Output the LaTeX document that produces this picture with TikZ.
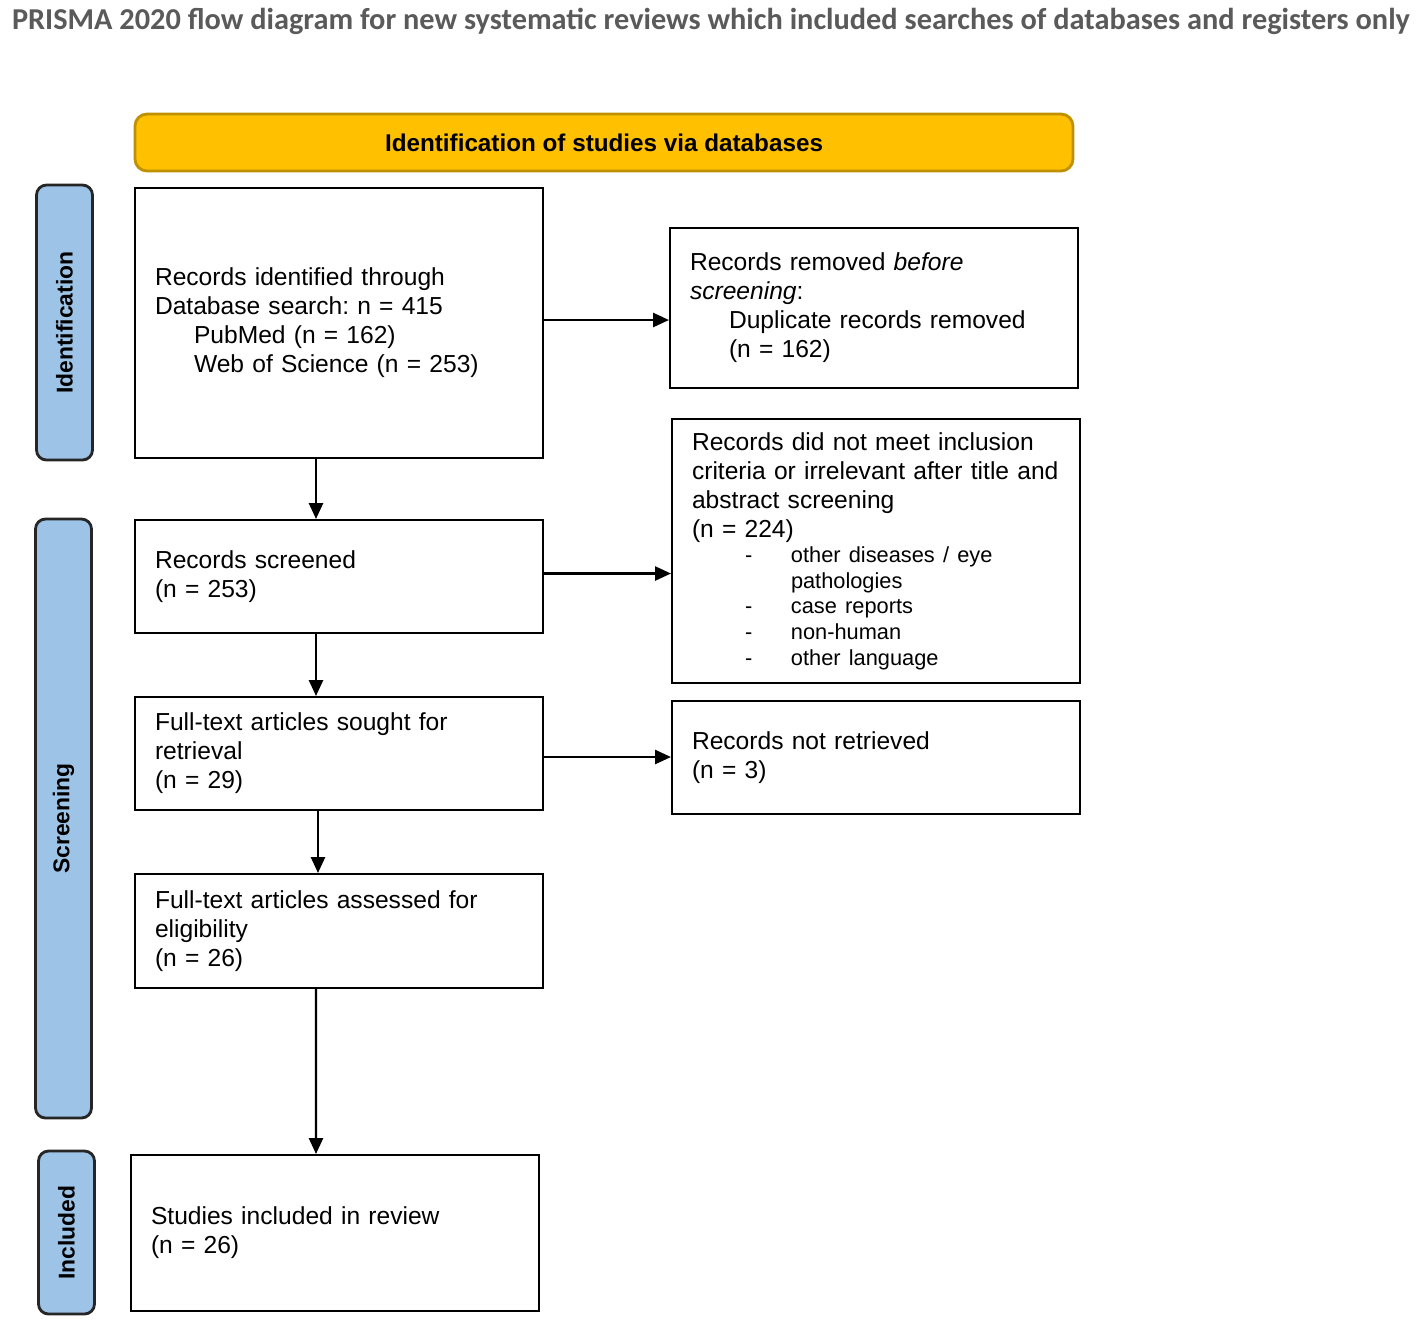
\documentclass[tikz,border=0pt]{standalone}
\usepackage{fontspec}
\setmainfont{Liberation Sans}
\newfontfamily\titlefont{Carlito}
\usetikzlibrary{arrows.meta}
\definecolor{bannergold}{HTML}{FFC000}
\definecolor{bannerrim}{HTML}{BF9000}
\definecolor{sideblue}{HTML}{9DC3E6}
\definecolor{titlegrey}{HTML}{5A5A5A}
\frenchspacing
\hyphenpenalty=10000
\begin{document}
\begin{tikzpicture}[
    box/.style={draw, line width=0.6pt, minimum width=4.08cm, text width=3.68cm,
      inner xsep=0.2cm, align=left, font=\fontsize{7}{8.25}\selectfont},
    sidebar/.style={draw=black!85, line width=0.8pt, fill=sideblue, rounded corners=0.1cm,
      rotate=90, minimum height=0.56cm, font=\bfseries\fontsize{6.5}{7.5}\selectfont},
    arr/.style={-{Triangle[length=4.5pt,width=4pt]}, line width=0.6pt}]
    \useasboundingbox (0,0) rectangle (14.17,-13.35);
    \node (title) at (7.11,-0.21) {\resizebox{13.98cm}{!}{\titlefont\bfseries\color{titlegrey}PRISMA 2020 flow diagram for new systematic reviews which included searches of databases and registers only}};
    \node[draw=bannerrim, line width=0.8pt, fill=bannergold, rounded corners=0.12cm,
      minimum width=9.38cm, minimum height=0.57cm, font=\bfseries\fontsize{6.9}{8}\selectfont]
      (banner) at (6.04,-1.425) {Identification of studies via databases};
    \node[sidebar, minimum width=2.75cm] (sideid) at (0.645,-3.225) {Identification};
    \node[sidebar, minimum width=5.99cm] (sidescr) at (0.635,-8.185) {Screening};
    \node[sidebar, minimum width=1.63cm] (sideinc) at (0.665,-12.325) {Included};
    \node[box, minimum height=2.70cm] (identified) at (3.39,-3.23)
      {Records identified through\\ Database search: n = 415\\
       \hspace*{0.39cm}PubMed (n = 162)\\ \hspace*{0.39cm}Web of Science (n = 253)};
    \node[box, minimum height=1.60cm] (removed) at (8.74,-3.08)
      {Records removed \textit{before}\\ \textit{screening}:\\
       \hspace*{0.39cm}Duplicate records removed\\ \hspace*{0.39cm}(n = 162)};
    \node[box, minimum height=1.13cm] (screened) at (3.39,-5.765)
      {Records screened\\ (n = 253)};
    \node[box, minimum height=2.64cm] (excluded) at (8.76,-5.51)
      {Records did not meet inclusion\\ criteria or irrelevant after title and\\ abstract screening\\ (n = 224)\\
       {\fontsize{6.2}{7.3}\selectfont
       \hspace*{0.53cm}\makebox[0.46cm][l]{-}other diseases / eye\\
       \hspace*{0.99cm}pathologies\\
       \hspace*{0.53cm}\makebox[0.46cm][l]{-}case reports\\
       \hspace*{0.53cm}\makebox[0.46cm][l]{-}non-human\\
       \hspace*{0.53cm}\makebox[0.46cm][l]{-}other language\par}};
    \node[box, minimum height=1.13cm] (sought) at (3.39,-7.535)
      {Full-text articles sought for\\ retrieval\\ (n = 29)};
    \node[box, minimum height=1.13cm] (notretrieved) at (8.76,-7.575)
      {Records not retrieved\\ (n = 3)};
    \node[box, minimum height=1.14cm] (assessed) at (3.39,-9.31)
      {Full-text articles assessed for\\ eligibility\\ (n = 26)};
    \node[box, minimum height=1.56cm] (included) at (3.35,-12.33)
      {Studies included in review\\ (n = 26)};
    \draw[arr] ([xshift=-0.23cm]identified.south) -- ([xshift=-0.23cm]screened.north);
    \draw[arr] ([xshift=-0.23cm]screened.south) -- ([xshift=-0.23cm]sought.north);
    \draw[arr] ([xshift=-0.21cm]sought.south) -- ([xshift=-0.21cm]assessed.north);
    \draw[arr] ([xshift=-0.23cm]assessed.south) -- ([xshift=-0.19cm]included.north);
    \draw[arr] ([yshift=0.03cm]identified.east) -- ([yshift=0.03cm]identified.east -| removed.west);
    \draw[arr] ([yshift=0.03cm]screened.east) -- ([yshift=0.03cm]screened.east -| excluded.west);
    \draw[arr] ([yshift=-0.035cm]sought.east) -- ([yshift=-0.035cm]sought.east -| notretrieved.west);
  \end{tikzpicture}
\end{document}
